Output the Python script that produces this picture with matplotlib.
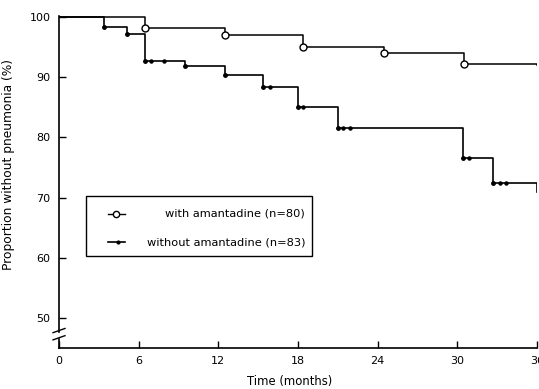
import numpy as np
import matplotlib
matplotlib.use('Agg')
import matplotlib.pyplot as plt
from matplotlib.patches import Rectangle
from matplotlib.lines import Line2D

plt.rcParams['font.family'] = ['DejaVu Sans']

# Kaplan-Meier style steps (month, % without pneumonia)
with_t = [0, 6.5, 12.5, 18.4, 24.5, 30.5, 36]
with_s = [100, 98.2, 97.0, 95.0, 94.0, 92.2, 92.1]

without_t = [0, 3.4, 5.1, 6.5, 9.5, 12.5, 15.4, 18.0, 21.0, 30.4, 32.7, 36]
without_s = [100, 98.3, 97.2, 92.7, 91.9, 90.4, 88.4, 85.0, 81.6, 76.6, 72.4, 71.0]

# censored observations in the "without" group
cens_t = [6.9, 7.9, 15.9, 18.4, 21.4, 21.9, 30.9, 33.2, 33.7]
cens_s = [92.7, 92.7, 88.4, 85.0, 81.6, 81.6, 76.6, 72.4, 72.4]

labels = ['with amantadine (n=80)', 'without amantadine (n=83)']
xticks = [0, 6, 12, 18, 24, 30, 36]
yticks = [50, 60, 70, 80, 90, 100]

fig = plt.figure(figsize=(5.39, 3.89), dpi=100)
ax = fig.add_axes([59/539, 1 - 348/389, 478/539, 332/389])

ax.plot(with_t, with_s, drawstyle='steps-post', color='black', lw=1.1)
ax.plot(with_t[1:-1], with_s[1:-1], 'o', mfc='white', mec='black', ms=5, mew=1)

ax.plot(without_t, without_s, drawstyle='steps-post', color='black', lw=1.2)
ax.plot(without_t[1:-1], without_s[1:-1], 'o', color='black', ms=2.5)
ax.plot(cens_t, cens_s, 'o', color='black', ms=2.2)

ax.set_xlim(0, 36)
ax.set_ylim(45, 100.2)
ax.set_xticks(xticks)
ax.set_yticks(yticks)
ax.tick_params(direction='in', length=5, width=1, labelsize=8, pad=6)
for s in ['top', 'right']:
    ax.spines[s].set_visible(False)
ax.spines['left'].set_bounds(47.6, 100.2)
ax.spines['left'].set_linewidth(1.2)
ax.spines['bottom'].set_linewidth(1.2)

# axis break on the y axis
ax.plot([0, 0], [45, 46.5], color='black', lw=1.2, clip_on=False)
for yb in [47.9, 46.7]:
    ax.plot([-0.45, 0.45], [yb - 0.35, yb + 0.35], color='black', lw=1, clip_on=False)

ax.set_xlabel('Time (months)', fontsize=8.4)
ax.set_ylabel('Proportion without pneumonia (%)', fontsize=8.8)
ax.xaxis.set_label_coords(0.483, -0.08)
ax.yaxis.set_label_coords(-0.092, 0.554)

# legend box
ax.add_patch(Rectangle((0.0565, 0.277), 0.4725, 0.181, transform=ax.transAxes,
                       fill=False, ec='black', lw=1))
ax.add_line(Line2D([0.102, 0.138], [0.404, 0.404], transform=ax.transAxes, color='black', lw=1))
ax.plot([0.120], [0.404], 'o', transform=ax.transAxes, mfc='white', mec='black', ms=4.5)
ax.add_line(Line2D([0.102, 0.138], [0.319, 0.319], transform=ax.transAxes, color='black', lw=1.2))
ax.plot([0.123], [0.319], 'o', transform=ax.transAxes, color='black', ms=2)
ax.text(0.515, 0.404, labels[0], transform=ax.transAxes, ha='right', va='center', fontsize=8.2)
ax.text(0.515, 0.319, labels[1], transform=ax.transAxes, ha='right', va='center', fontsize=8.2)

fig.savefig('out.png', dpi=100)
